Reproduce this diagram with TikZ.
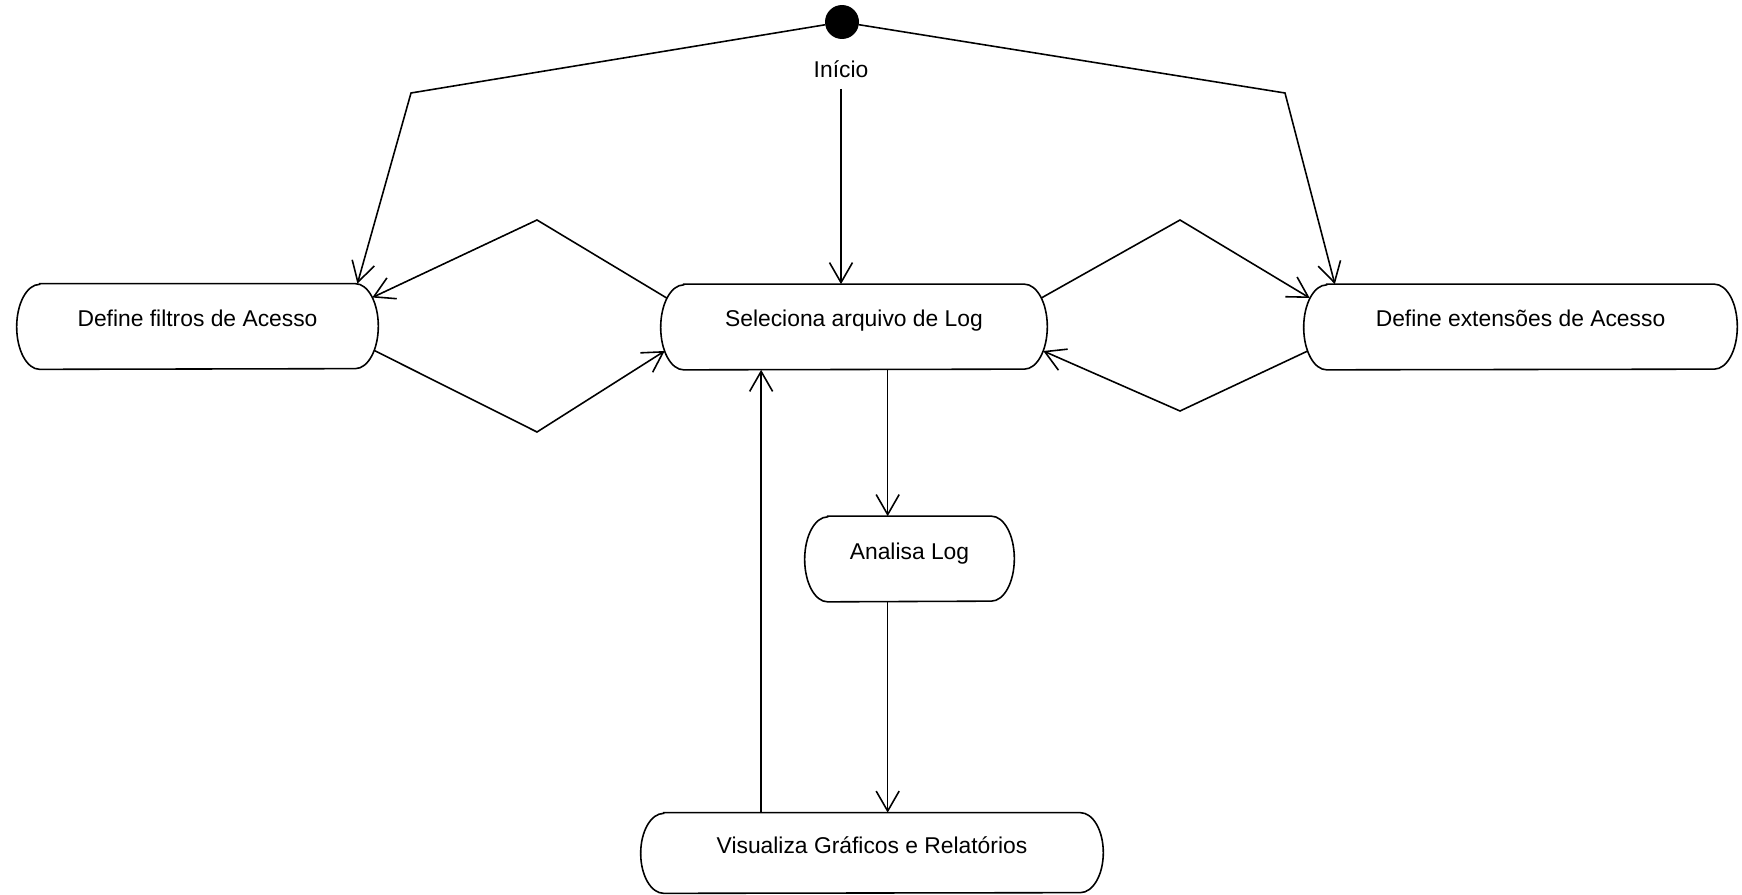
\documentclass[tikz,border=0pt]{standalone}
\usepackage{fontspec}
\setmainfont{Liberation Sans}
\usetikzlibrary{positioning, calc, arrows.meta}

\tikzset{
  act/.style={rectangle, minimum height=1.7cm, text height=10pt, text depth=10pt},
  borda/.style={line width=0.9pt},
  seta/.style={line width=0.9pt, -{Straight Barb[length=0.4cm, width=0.46cm]}},
}

\begin{document}
\begin{tikzpicture}[x=0.02cm, y=-0.02cm, font=\fontsize{13}{15}\selectfont]
            \useasboundingbox (0,0) rectangle (1742,895);
            %Nodes
            \node[circle, fill=black, minimum size=0.68cm, inner sep=0pt] at (842,22) (ini) {};
            \node at (841,69) (lab) {Início};
            \node[act, minimum width=7.22cm] at (197.5,326.5) (filt) {Define filtros de Acesso};
            \node[act, minimum width=7.72cm] at (854,327) (sel) {Seleciona arquivo de Log};
            \node[act, minimum width=8.66cm] at (1520.5,327) (ext) {Define extensões de Acesso};
            \node[act, minimum width=4.18cm] at (909.5,559) (ana) {Analisa Log};
            \node[act, minimum width=9.24cm, minimum height=1.6cm] at (872,853) (viz) {Visualiza Gráficos e Relatórios};
            \coordinate (ca) at (411,93);
            \coordinate (cb) at (1285,93);
            \coordinate (da) at (537,220);
            \coordinate (db) at (537,432);
            \coordinate (dc) at (1180,220);
            \coordinate (dd) at (1180,411);

            %Outlines
            \foreach \n/\r in {filt/0.85, sel/0.85, ext/0.85, ana/0.85, viz/0.8}
              \draw[borda] ([xshift=0.46cm]\n.north west) -- ([xshift=-0.46cm]\n.north east)
                arc[start angle=90, end angle=-90, x radius=0.46cm, y radius=\r cm]
                -- ([xshift=0.46cm]\n.south west)
                arc[start angle=270, end angle=90, x radius=0.46cm, y radius=\r cm] -- cycle;

            %Lines
            \draw[seta] (ini) -- (ca) -- (filt.15);
            \draw[seta] (ini) -- (cb) -- (ext.167);
            \draw[seta, shorten <=3pt] (lab) -- (lab |- sel.north);
            \draw[seta] ($(sel.west)+(6,-29)$) -- (da) -- ($(filt.east)+(-6,-29)$);
            \draw[seta] ($(filt.east)+(-4,24)$) -- (db) -- ($(sel.west)+(4,24)$);
            \draw[seta] ($(sel.east)+(-6,-29)$) -- (dc) -- ($(ext.west)+(6,-29)$);
            \draw[seta] ($(ext.west)+(4,24)$) -- (dd) -- ($(sel.east)+(-4,24)$);
            \draw[seta] (ana.117 |- sel.south) -- (ana.117);
            \draw[seta] (ana.-117) -- (ana.-117 |- viz.north);
            \draw[seta] (viz.160) -- (viz.160 |- sel.south);
        \end{tikzpicture}
\end{document}
